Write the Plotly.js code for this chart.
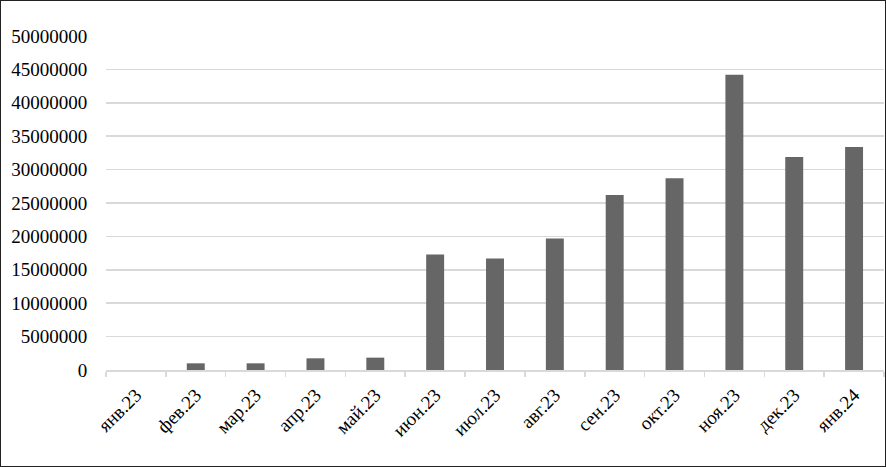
<!DOCTYPE html>
<html><head><meta charset="utf-8">
<script src="https://cdn.plot.ly/plotly-3.0.1.min.js"></script>
<style>
html,body{margin:0;padding:0;background:#fff;}
#wrap{width:886px;height:467px;box-sizing:border-box;border:1px solid #222;overflow:hidden;}
#chart{width:884px;height:465px;}
</style></head>
<body><div id="wrap"><div id="chart"></div></div>
<script>
const categories = ["янв.23","фев.23","мар.23","апр.23","май.23","июн.23","июл.23","авг.23","сен.23","окт.23","ноя.23","дек.23","янв.24"];
const values = [0, 1000000, 1000000, 1750000, 1850000, 17300000, 16700000, 19700000, 26200000, 28700000, 44200000, 31900000, 33400000];
const yTicks = [0,5000000,10000000,15000000,20000000,25000000,30000000,35000000,40000000,45000000,50000000];

const font = {family: '"Liberation Serif", "Times New Roman", serif', size: 19, color: '#000'};
Plotly.newPlot('chart', [{
  type: 'bar', x: categories, y: values,
  marker: {color: '#666666'}, width: 0.3, hoverinfo: 'none'
}], {
  width: 884, height: 465,
  margin: {l: 105, r: 1, t: 35, b: 96},
  paper_bgcolor: '#fff', plot_bgcolor: '#fff',
  showlegend: false,
  font: font,
  xaxis: {
    type: 'category', tickangle: -45, tickfont: font,
    showline: true, linecolor: '#d9d9d9', linewidth: 1.5,
    ticks: 'outside', ticklen: 5, tickcolor: '#d9d9d9', tickwidth: 1.5,
    ticklabelstandoff: 5,
    tickson: 'boundaries', showgrid: false, fixedrange: true
  },
  yaxis: {
    range: [0, 50000000], tickvals: yTicks, ticktext: yTicks.map(String),
    tickfont: font, showgrid: true, gridcolor: '#d9d9d9', gridwidth: 1.5,
    zeroline: false, showline: false,
    ticks: 'outside', ticklen: 14, tickcolor: 'rgba(0,0,0,0)', fixedrange: true
  }
}, {displayModeBar: false, staticPlot: true});
</script></body></html>
